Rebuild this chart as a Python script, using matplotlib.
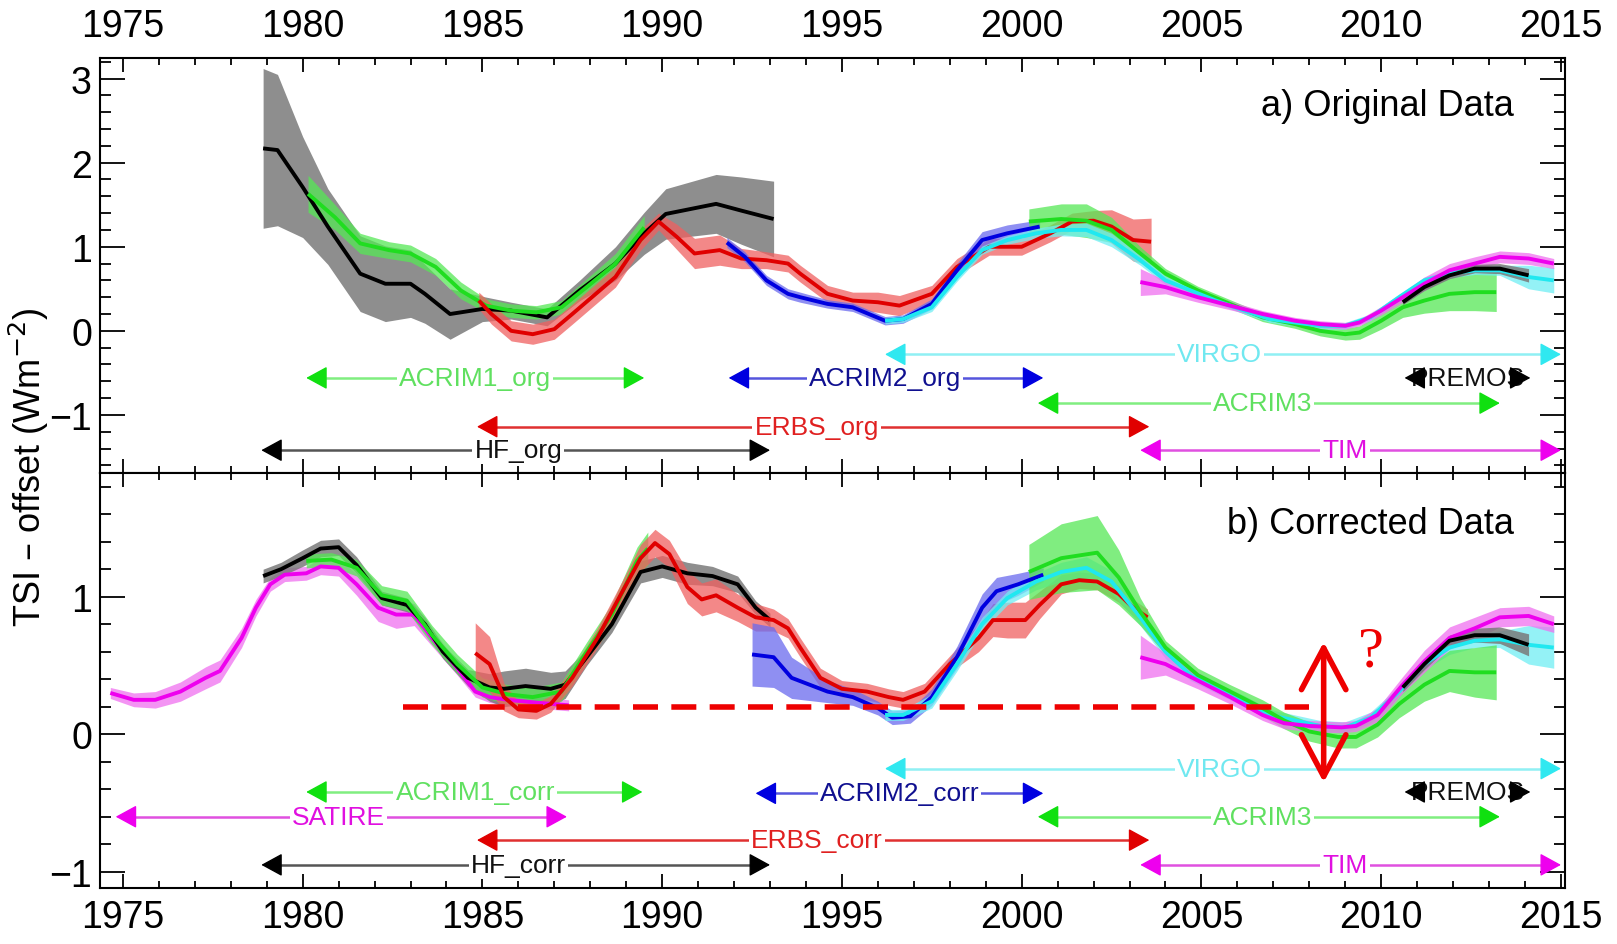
import matplotlib
matplotlib.use('Agg')
import matplotlib.pyplot as plt
from matplotlib.ticker import MultipleLocator, FormatStrFormatter

plt.rcParams['font.family'] = ['Liberation Sans Narrow', 'Liberation Sans', 'DejaVu Sans']

# ---------------- a) original data ----------------
hf_org_yr = [1978.9, 1979.3, 1980.0, 1980.7, 1981.6, 1982.3, 1983.0, 1983.4, 1984.1, 1985.0, 1985.8,
             1986.8, 1987.7, 1988.7, 1989.5, 1990.1, 1991.5, 1992.2, 1993.1]
hf_org = [2.17, 2.15, 1.71, 1.24, 0.68, 0.56, 0.56, 0.44, 0.2, 0.26, 0.24, 0.16, 0.48, 0.8, 1.16, 1.39,
          1.51, 1.43, 1.33]
hf_org_err = [0.95, 0.9, 0.6, 0.45, 0.45, 0.45, 0.4, 0.35, 0.3, 0.15, 0.1, 0.1, 0.12, 0.2, 0.25, 0.3,
              0.35, 0.4, 0.45]

acrim1_org_yr = [1980.15, 1980.9, 1981.6, 1982.4, 1983.0, 1983.7, 1984.4, 1985.1, 1985.8, 1986.5, 1987.2,
                 1987.9, 1988.7, 1989.5]
acrim1_org = [1.63, 1.35, 1.04, 0.96, 0.92, 0.76, 0.48, 0.3, 0.24, 0.22, 0.28, 0.52, 0.8, 1.23]
acrim1_org_err = [0.22, 0.15, 0.12, 0.1, 0.1, 0.1, 0.1, 0.08, 0.08, 0.08, 0.08, 0.1, 0.12, 0.14]

erbs_org_yr = [1984.9, 1985.25, 1985.8, 1986.4, 1987.0, 1987.5, 1988.7, 1989.4, 1989.9, 1990.4, 1990.9,
               1991.6, 1992.2, 1992.9, 1993.5, 1993.84, 1994.6, 1995.3, 1996.0, 1996.6, 1997.5, 1998.2,
               1999.1, 2000.0, 2000.8, 2001.4, 2002.0, 2002.5, 2003.1, 2003.6]
erbs_org = [0.36, 0.2, 0.0, -0.04, 0.02, 0.2, 0.64, 1.08, 1.3, 1.12, 0.92, 0.96, 0.86, 0.84, 0.8, 0.68,
            0.44, 0.36, 0.34, 0.3, 0.44, 0.76, 1.0, 1.0, 1.16, 1.3, 1.31, 1.24, 1.08, 1.06]
erbs_org_err = [0.1, 0.12, 0.12, 0.12, 0.12, 0.12, 0.12, 0.12, 0.1, 0.15, 0.18, 0.18, 0.12, 0.1, 0.1, 0.1,
                0.1, 0.1, 0.12, 0.12, 0.1, 0.1, 0.1, 0.1, 0.1, 0.1, 0.12, 0.2, 0.25, 0.28]

acrim2_org_yr = [1991.8, 1992.3, 1992.9, 1993.5, 1993.84, 1994.6, 1995.3, 1996.2, 1996.7, 1997.5, 1998.2,
                 1998.9, 1999.6, 2000.5]
acrim2_org = [1.05, 0.88, 0.6, 0.44, 0.4, 0.32, 0.28, 0.12, 0.14, 0.32, 0.72, 1.08, 1.16, 1.24]
acrim2_org_err = [0.06, 0.06, 0.06, 0.06, 0.06, 0.05, 0.05, 0.05, 0.05, 0.06, 0.08, 0.1, 0.1, 0.08]

virgo_yr = [1996.2, 1996.7, 1997.5, 1998.2, 1998.9, 1999.6, 2000.4, 2001.1, 2001.8, 2002.5, 2003.3, 2004.0,
            2004.7, 2005.4, 2006.2, 2006.9, 2007.6, 2008.3, 2009.0, 2009.7, 2010.5, 2011.2, 2011.9, 2012.6,
            2013.3, 2014.1, 2014.8]
virgo_org = [0.12, 0.14, 0.28, 0.64, 0.96, 1.08, 1.16, 1.2, 1.2, 1.08, 0.84, 0.6, 0.48, 0.36, 0.24, 0.14,
             0.1, 0.06, 0.06, 0.16, 0.4, 0.6, 0.68, 0.72, 0.72, 0.64, 0.6]
virgo_err = [0.04, 0.04, 0.05, 0.05, 0.05, 0.05, 0.06, 0.07, 0.08, 0.08, 0.06, 0.05, 0.04, 0.04, 0.04,
             0.04, 0.04, 0.04, 0.04, 0.04, 0.04, 0.04, 0.05, 0.05, 0.06, 0.14, 0.15]

acrim3_org_yr = [2000.2, 2001.1, 2001.8, 2002.5, 2003.3, 2004.0, 2004.9, 2005.8, 2006.7, 2007.6, 2008.3,
                 2009.0, 2009.4, 2010.0, 2010.6, 2011.2, 2011.9, 2012.6, 2013.2]
acrim3_org = [1.3, 1.33, 1.31, 1.2, 0.92, 0.68, 0.48, 0.32, 0.16, 0.08, 0.0, -0.04, -0.02, 0.12, 0.28, 0.36,
              0.44, 0.46, 0.46]
acrim3_org_err = [0.15, 0.18, 0.2, 0.15, 0.08, 0.06, 0.05, 0.05, 0.05, 0.05, 0.06, 0.07, 0.08, 0.1, 0.12,
                  0.15, 0.2, 0.22, 0.23]

tim_yr = [2003.3, 2004.0, 2004.9, 2005.8, 2006.7, 2007.6, 2008.3, 2009.0, 2009.4, 2010.0, 2010.6, 2011.2,
          2011.9, 2012.6, 2013.3, 2014.1, 2014.8]
tim_org = [0.58, 0.52, 0.4, 0.3, 0.2, 0.12, 0.08, 0.06, 0.1, 0.24, 0.4, 0.56, 0.72, 0.8, 0.88, 0.86, 0.8]
tim_err = [0.16, 0.08, 0.06, 0.05, 0.04, 0.04, 0.04, 0.04, 0.04, 0.05, 0.06, 0.08, 0.08, 0.08, 0.07,
           0.07, 0.06]

premos_yr = [2010.6, 2011.2, 2011.9, 2012.6, 2013.3, 2014.1]
premos_org = [0.34, 0.52, 0.66, 0.74, 0.74, 0.66]
premos_err = [0.03, 0.04, 0.04, 0.05, 0.06, 0.08]

# ---------------- b) corrected data ----------------
satire_yr = [1974.65, 1975.3, 1975.9, 1976.6, 1977.3, 1977.7, 1978.3, 1978.7, 1979.1, 1979.5, 1980.1,
             1980.5, 1981.0, 1981.5, 1982.1, 1982.6, 1983.1, 1983.6, 1984.3, 1984.8, 1985.2, 1985.7,
             1986.5, 1987.4]
satire = [0.3, 0.25, 0.25, 0.31, 0.41, 0.46, 0.7, 0.92, 1.09, 1.16, 1.17, 1.22, 1.21, 1.09, 0.92, 0.87,
          0.87, 0.7, 0.48, 0.31, 0.27, 0.25, 0.23, 0.21]
satire_err = [0.04, 0.05, 0.06, 0.07, 0.08, 0.08, 0.07, 0.06, 0.05, 0.05, 0.05, 0.06, 0.06, 0.08, 0.1,
              0.1, 0.08, 0.06, 0.05, 0.04, 0.04, 0.04, 0.04, 0.04]

hf_corr_yr = [1978.9, 1979.4, 1980.0, 1980.5, 1981.0, 1981.5, 1982.2, 1982.9, 1983.4, 1983.9, 1984.6,
              1985.2, 1985.6, 1986.2, 1986.9, 1987.3, 1987.9, 1988.6, 1989.4, 1990.0, 1990.7, 1991.4,
              1992.1, 1992.6, 1993.0]
hf_corr = [1.15, 1.2, 1.28, 1.35, 1.36, 1.23, 0.99, 0.94, 0.8, 0.6, 0.41, 0.34, 0.33, 0.35, 0.33, 0.36,
           0.56, 0.8, 1.18, 1.22, 1.17, 1.15, 1.09, 0.92, 0.83]
hf_corr_err = [0.05, 0.05, 0.06, 0.06, 0.06, 0.06, 0.05, 0.05, 0.05, 0.05, 0.06, 0.1, 0.13, 0.13, 0.12,
               0.1, 0.06, 0.06, 0.08, 0.08, 0.08, 0.07, 0.06, 0.05, 0.05]

acrim1_corr_yr = [1980.1, 1980.8, 1981.5, 1982.2, 1982.9, 1983.6, 1984.3, 1985.0, 1985.7, 1986.4, 1987.2,
                  1987.9, 1988.6, 1989.3, 1989.6]
acrim1_corr = [1.26, 1.27, 1.21, 1.01, 0.97, 0.72, 0.51, 0.34, 0.29, 0.27, 0.31, 0.6, 0.87, 1.26, 1.35]
acrim1_corr_err = [0.05, 0.05, 0.06, 0.07, 0.07, 0.07, 0.07, 0.07, 0.07, 0.07, 0.07, 0.07, 0.08, 0.1, 0.12]

erbs_corr_yr = [1984.8, 1985.2, 1985.6, 1986.0, 1986.5, 1986.9, 1987.5, 1988.2, 1988.9, 1989.4, 1989.8,
                1990.2, 1990.7, 1991.1, 1991.5, 1992.1, 1992.6, 1993.1, 1993.5, 1993.84, 1994.4, 1995.0,
                1995.7, 1996.3, 1996.7, 1997.3, 1998.0, 1998.8, 1999.2, 1999.6, 2000.1, 2000.5, 2001.1,
                2001.6, 2002.1, 2002.7, 2003.1, 2003.5]
erbs_corr = [0.59, 0.51, 0.27, 0.18, 0.17, 0.22, 0.41, 0.7, 1.04, 1.28, 1.39, 1.31, 1.07, 0.98, 1.01,
             0.92, 0.85, 0.83, 0.77, 0.63, 0.41, 0.33, 0.31, 0.27, 0.25, 0.31, 0.51, 0.7, 0.83, 0.83,
             0.83, 0.94, 1.09, 1.12, 1.11, 1.02, 0.92, 0.85]
erbs_corr_err = [0.22, 0.2, 0.1, 0.06, 0.06, 0.06, 0.06, 0.07, 0.08, 0.1, 0.1, 0.1, 0.12, 0.12, 0.12,
                 0.1, 0.1, 0.08, 0.07, 0.07, 0.07, 0.06, 0.06, 0.06, 0.06, 0.06, 0.06, 0.1, 0.12, 0.13,
                 0.13, 0.1, 0.07, 0.06, 0.06, 0.06, 0.06, 0.06]

acrim2_corr_yr = [1992.5, 1993.1, 1993.6, 1994.6, 1995.3, 1996.0, 1996.4, 1996.9, 1997.5, 1998.2, 1998.9,
                  1999.3, 1999.9, 2000.6]
acrim2_corr = [0.58, 0.56, 0.41, 0.31, 0.27, 0.19, 0.12, 0.13, 0.27, 0.56, 0.92, 1.04, 1.09, 1.16]
acrim2_corr_err = [0.23, 0.22, 0.15, 0.08, 0.06, 0.05, 0.05, 0.05, 0.06, 0.08, 0.1, 0.1, 0.08, 0.05]

virgo_corr = [0.14, 0.14, 0.24, 0.51, 0.8, 0.99, 1.11, 1.18, 1.21, 1.11, 0.85, 0.6, 0.43, 0.34, 0.24,
              0.14, 0.1, 0.06, 0.05, 0.12, 0.31, 0.51, 0.63, 0.68, 0.69, 0.65, 0.63]

acrim3_corr_yr = [2000.2, 2001.1, 2001.6, 2002.1, 2002.7, 2003.3, 2004.0, 2004.9, 2005.8, 2006.7, 2007.3,
                  2008.0, 2008.8, 2009.3, 2009.9, 2010.5, 2011.2, 2011.9, 2012.6, 2013.2]
acrim3_corr = [1.18, 1.28, 1.3, 1.32, 1.14, 0.89, 0.63, 0.43, 0.31, 0.19, 0.1, 0.02, -0.02, -0.02, 0.07,
               0.22, 0.36, 0.46, 0.45, 0.45]
acrim3_corr_err = [0.2, 0.25, 0.26, 0.27, 0.2, 0.1, 0.05, 0.05, 0.05, 0.06, 0.06, 0.07, 0.08, 0.08, 0.09,
                   0.1, 0.12, 0.15, 0.18, 0.2]

tim_corr_yr = [2003.3, 2004.0, 2004.9, 2005.8, 2006.7, 2007.3, 2008.0, 2008.9, 2009.3, 2009.9, 2010.6,
               2011.2, 2011.9, 2012.6, 2013.3, 2014.1, 2014.8]
tim_corr = [0.56, 0.51, 0.39, 0.27, 0.14, 0.08, 0.06, 0.05, 0.06, 0.14, 0.36, 0.53, 0.7, 0.77, 0.85,
            0.86, 0.8]

premos_corr = [0.34, 0.51, 0.68, 0.72, 0.72, 0.65]

# instrument periods: label, start, end, level, label position
periods_org = [
    ('ACRIM1_org', 1980.1, 1989.5, -0.56, 1984.8, 'green'),
    ('ACRIM2_org', 1991.85, 2000.6, -0.56, 1996.2, 'blue'),
    ('VIRGO', 1996.2, 2015.0, -0.28, 2005.5, 'cyan'),
    ('PREMOS', 2010.65, 2014.15, -0.56, 2012.4, 'black'),
    ('ACRIM3', 2000.45, 2013.3, -0.86, 2006.7, 'green'),
    ('ERBS_org', 1984.85, 2003.55, -1.14, 1994.3, 'red'),
    ('HF_org', 1978.85, 1993.0, -1.42, 1986.0, 'black'),
    ('TIM', 2003.3, 2015.0, -1.42, 2009.0, 'magenta'),
]
periods_corr = [
    ('ACRIM1_corr', 1980.1, 1989.45, -0.42, 1984.8, 'green'),
    ('SATIRE', 1974.8, 1987.35, -0.6, 1981.0, 'magenta'),
    ('ACRIM2_corr', 1992.6, 2000.6, -0.43, 1996.6, 'blue'),
    ('VIRGO', 1996.2, 2015.0, -0.25, 2005.5, 'cyan'),
    ('PREMOS', 2010.65, 2014.15, -0.42, 2012.4, 'black'),
    ('ACRIM3', 2000.45, 2013.3, -0.6, 2006.7, 'green'),
    ('ERBS_corr', 1984.85, 2003.55, -0.77, 1994.3, 'red'),
    ('HF_corr', 1978.85, 1993.0, -0.95, 1986.0, 'black'),
    ('TIM', 2003.3, 2015.0, -0.95, 2009.0, 'magenta'),
]

# colours: line, band, arrow head, arrow shaft, text
cols = {
    'black': ('#000000', '#7a7a7a', '#000000', '#555555', '#111111'),
    'green': ('#20dd20', '#55e855', '#10e010', '#80ee80', '#60e060'),
    'red': ('#e00000', '#f06060', '#e00000', '#e03030', '#e02020'),
    'blue': ('#0000e0', '#6a6aee', '#0000e0', '#5555dd', '#101090'),
    'cyan': ('#20e8f0', '#70eef4', '#30e8f0', '#90f0f4', '#70e8f0'),
    'magenta': ('#ee00ee', '#f070f0', '#ee00ee', '#e050e0', '#e010e0'),
}


def band(ax, x, y, err, c, z=2):
    lo = [v - e for v, e in zip(y, err)]
    hi = [v + e for v, e in zip(y, err)]
    ax.fill_between(x, lo, hi, color=cols[c][1], alpha=0.75 if c != 'black' else 0.85,
                    lw=0, zorder=z)


def line(ax, x, y, c, z=4):
    ax.plot(x, y, color=cols[c][0], lw=2.8, zorder=z, solid_capstyle='butt')


def periods(ax, plist):
    hl = 0.4
    for lab, x0, x1, yv, xl, c in plist:
        head, shaft, tc = cols[c][2], cols[c][3], cols[c][4]
        ax.plot([x0 + hl, x1 - hl], [yv, yv], color=shaft, lw=1.8, zorder=5)
        ax.text(xl, yv, lab, ha='center', va='center', fontsize=19, color=tc, zorder=6,
                bbox=dict(facecolor='white', edgecolor='none', pad=1.5))
        # heads drawn above the label box
        for tip, tail in ((x0, x0 + hl), (x1, x1 - hl)):
            ax.annotate('', xy=(tip, yv), xytext=(tail, yv),
                        arrowprops=dict(arrowstyle='-|>,head_length=0.55,head_width=0.3',
                                        color=head, lw=1.0, mutation_scale=24,
                                        shrinkA=0, shrinkB=0), zorder=7)


fig, (ax1, ax2) = plt.subplots(2, 1, sharex=True, figsize=(16.17, 9.45), dpi=100)
fig.subplots_adjust(left=0.062, right=0.968, top=0.938, bottom=0.059, hspace=0)

# panel a
band(ax1, hf_org_yr, hf_org, hf_org_err, 'black')
band(ax1, acrim1_org_yr, acrim1_org, acrim1_org_err, 'green')
band(ax1, erbs_org_yr, erbs_org, erbs_org_err, 'red')
band(ax1, acrim2_org_yr, acrim2_org, acrim2_org_err, 'blue')
band(ax1, acrim3_org_yr, acrim3_org, acrim3_org_err, 'green')
band(ax1, virgo_yr, virgo_org, virgo_err, 'cyan')
band(ax1, tim_yr, tim_org, tim_err, 'magenta')
band(ax1, premos_yr, premos_org, premos_err, 'black')
line(ax1, hf_org_yr, hf_org, 'black')
line(ax1, acrim1_org_yr, acrim1_org, 'green')
line(ax1, erbs_org_yr, erbs_org, 'red')
line(ax1, acrim2_org_yr, acrim2_org, 'blue')
line(ax1, acrim3_org_yr, acrim3_org, 'green')
line(ax1, virgo_yr, virgo_org, 'cyan')
line(ax1, tim_yr, tim_org, 'magenta')
line(ax1, premos_yr, premos_org, 'black')
periods(ax1, periods_org)
ax1.text(2013.7, 2.68, 'a) Original Data', ha='right', va='center', fontsize=26)

# panel b
band(ax2, satire_yr, satire, satire_err, 'magenta')
band(ax2, hf_corr_yr, hf_corr, hf_corr_err, 'black')
band(ax2, acrim1_corr_yr, acrim1_corr, acrim1_corr_err, 'green')
band(ax2, erbs_corr_yr, erbs_corr, erbs_corr_err, 'red')
band(ax2, acrim2_corr_yr, acrim2_corr, acrim2_corr_err, 'blue')
band(ax2, virgo_yr, virgo_corr, virgo_err, 'cyan')
band(ax2, acrim3_corr_yr, acrim3_corr, acrim3_corr_err, 'green')
band(ax2, tim_corr_yr, tim_corr, tim_err, 'magenta')
band(ax2, premos_yr, premos_corr, premos_err, 'black')
line(ax2, satire_yr, satire, 'magenta')
line(ax2, hf_corr_yr, hf_corr, 'black')
line(ax2, acrim1_corr_yr, acrim1_corr, 'green')
line(ax2, erbs_corr_yr, erbs_corr, 'red')
line(ax2, acrim2_corr_yr, acrim2_corr, 'blue')
line(ax2, virgo_yr, virgo_corr, 'cyan')
line(ax2, acrim3_corr_yr, acrim3_corr, 'green')
line(ax2, tim_corr_yr, tim_corr, 'magenta')
line(ax2, premos_yr, premos_corr, 'black')
periods(ax2, periods_corr)
ax2.text(2013.7, 1.53, 'b) Corrected Data', ha='right', va='center', fontsize=26)

# red marks added on top of the figure
ax2.plot([1982.8, 2008.0], [0.2, 0.2], color='#ee0000', lw=4, dashes=(4.5, 2.4), zorder=8)
ax2.annotate('', xy=(2008.4, 0.67), xytext=(2008.4, -0.35),
             arrowprops=dict(arrowstyle='<->,head_length=0.75,head_width=0.4', color='#ee0000',
                             lw=4, mutation_scale=40, shrinkA=0, shrinkB=0), zorder=9)
ax2.text(2009.7, 0.6, '?', color='#ee0000', fontsize=42, ha='center', va='center',
         family=['Liberation Serif', 'DejaVu Serif'], zorder=9)

ax1.set_ylim(-1.69, 3.25)
ax2.set_ylim(-1.12, 1.9)
ax2.set_xlim(1974.37, 2015.12)

for ax in (ax1, ax2):
    ax.xaxis.set_major_locator(MultipleLocator(5))
    ax.xaxis.set_minor_locator(MultipleLocator(1))
    ax.xaxis.set_major_formatter(FormatStrFormatter('%d'))
    ax.yaxis.set_major_locator(MultipleLocator(1))
    ax.yaxis.set_minor_locator(MultipleLocator(0.2))
    ax.tick_params(which='both', direction='in', top=True, right=True, labelsize=27, width=1.3)
    ax.tick_params(axis='x', which='major', length=10, pad=8)
    ax.tick_params(axis='x', which='minor', length=5)
    ax.tick_params(axis='y', which='major', length=18, pad=6)
    ax.tick_params(axis='y', which='minor', length=8)
    for s in ax.spines.values():
        s.set_linewidth(1.5)

ax1.tick_params(axis='x', labeltop=True, labelbottom=False, pad=10)

fig.text(0.018, 0.505, 'TSI – offset (Wm$^{-2}$)', rotation=90, ha='center', va='center', fontsize=26)

fig.savefig('out.png', dpi=100)
